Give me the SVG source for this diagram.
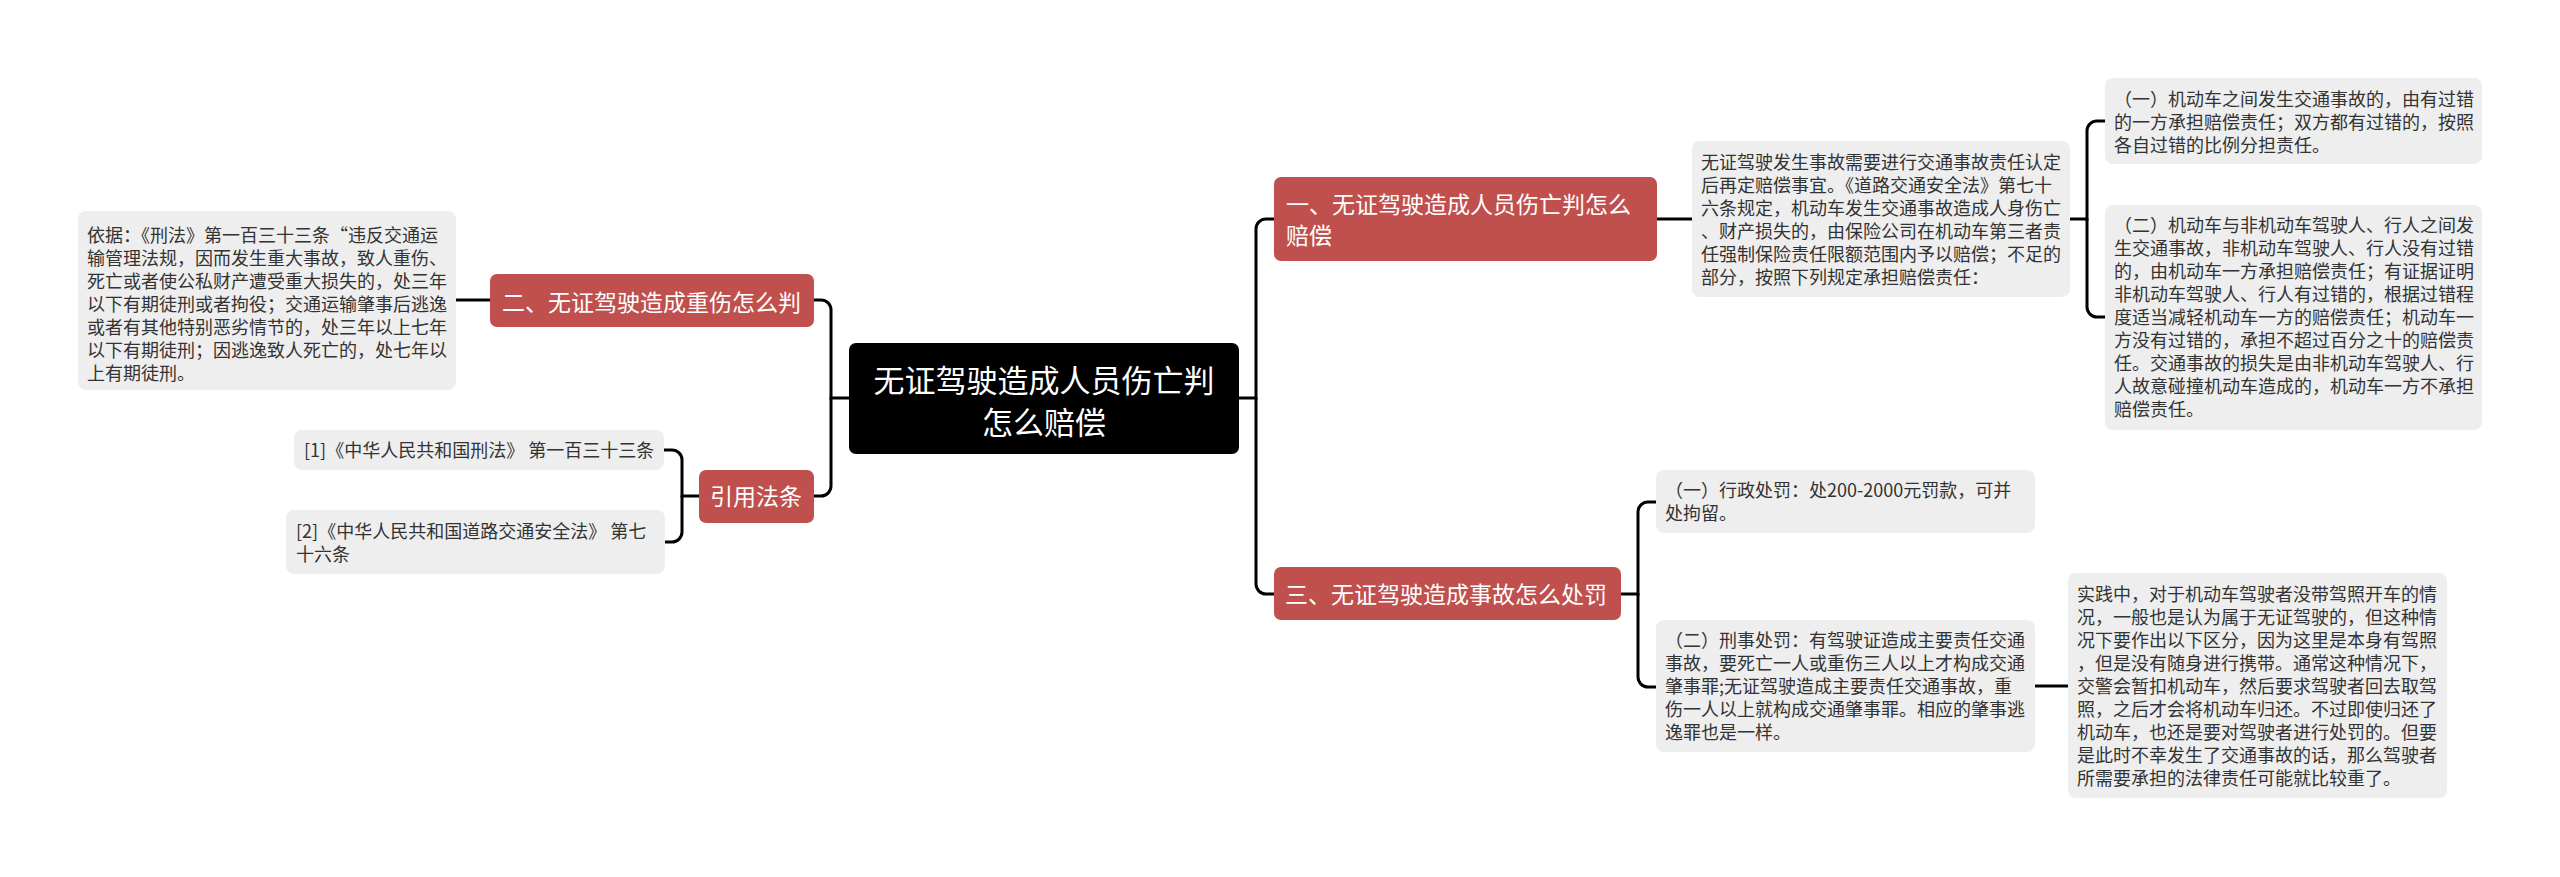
<svg xmlns="http://www.w3.org/2000/svg" width="2560" height="877" viewBox="0 0 2560 877">
<style>
.bg{fill:#ffffff}
.leaf{fill:#eeeeee}
.red{fill:#c0504d}
.root{fill:#000000}
.lt{font-family:"Noto Sans CJK SC","Noto Sans",sans-serif;font-size:18px;fill:#333333}
.nt{font-family:"Noto Sans CJK SC","Noto Sans",sans-serif;font-size:23px;fill:#ffffff}
.rt{font-family:"Noto Sans CJK SC","Noto Sans",sans-serif;font-size:31px;fill:#ffffff;text-anchor:middle}
.c{fill:none;stroke:#000000;stroke-width:3;stroke-linecap:round}
</style>
<rect class="bg" x="0" y="0" width="2560" height="877"/>
<g id="connectors">
<path class="c" d="M849 398 H831 V310 A10 10 0 0 0 821 300 H814"/>
<path class="c" d="M831 398 V486 A10 10 0 0 1 821 496 H814"/>
<path class="c" d="M456 300 H490"/>
<path class="c" d="M699 496 H682 V460 A10 10 0 0 0 672 450 H664"/>
<path class="c" d="M682 496 V532 A10 10 0 0 1 672 542 H665"/>
<path class="c" d="M1239 398 H1256 V229 A10 10 0 0 1 1266 219 H1274"/>
<path class="c" d="M1256 398 V584 A10 10 0 0 0 1266 594 H1274"/>
<path class="c" d="M1657 219 H1692"/>
<path class="c" d="M2070 219 H2087 V131 A10 10 0 0 1 2097 121 H2105"/>
<path class="c" d="M2087 219 V307 A10 10 0 0 0 2097 317 H2105"/>
<path class="c" d="M1621 594 H1638 V512 A10 10 0 0 1 1648 502 H1656"/>
<path class="c" d="M1638 594 V677 A10 10 0 0 0 1648 687 H1656"/>
<path class="c" d="M2035 686 H2068"/>
</g>
<g id="root">
<rect class="root" x="849" y="343" width="390" height="111" rx="7"/>
<text class="rt" x="1044" y="392">无证驾驶造成人员伤亡判</text>
<text class="rt" x="1044" y="434">怎么赔偿</text>
</g>
<g id="n2">
<rect class="red" x="490" y="274" width="324" height="53" rx="7"/>
<text class="nt" x="502" y="311">二、无证驾驶造成重伤怎么判</text>
</g>
<g id="n2-leaf">
<rect class="leaf" x="78" y="211" width="378" height="179" rx="8"/>
<text class="lt" x="87" y="242">依据：《刑法》第一百三十三条“违反交通运</text>
<text class="lt" x="87" y="265">输管理法规，因而发生重大事故，致人重伤、</text>
<text class="lt" x="87" y="288">死亡或者使公私财产遭受重大损失的，处三年</text>
<text class="lt" x="87" y="311">以下有期徒刑或者拘役；交通运输肇事后逃逸</text>
<text class="lt" x="87" y="334">或者有其他特别恶劣情节的，处三年以上七年</text>
<text class="lt" x="87" y="357">以下有期徒刑；因逃逸致人死亡的，处七年以</text>
<text class="lt" x="87" y="380">上有期徒刑。</text>
</g>
<g id="ref">
<rect class="red" x="699" y="470" width="115" height="53" rx="7"/>
<text class="nt" x="710" y="505">引用法条</text>
</g>
<g id="ref-1">
<rect class="leaf" x="294" y="430" width="370" height="40" rx="8"/>
<text class="lt" x="304" y="457">[1]《中华人民共和国刑法》 第一百三十三条</text>
</g>
<g id="ref-2">
<rect class="leaf" x="286" y="510" width="379" height="64" rx="8"/>
<text class="lt" x="296" y="538">[2]《中华人民共和国道路交通安全法》 第七</text>
<text class="lt" x="296" y="561">十六条</text>
</g>
<g id="n1">
<rect class="red" x="1274" y="177" width="383" height="84" rx="7"/>
<text class="nt" x="1286" y="213">一、无证驾驶造成人员伤亡判怎么</text>
<text class="nt" x="1286" y="244">赔偿</text>
</g>
<g id="n1-leaf">
<rect class="leaf" x="1692" y="141" width="378" height="156" rx="8"/>
<text class="lt" x="1701" y="169">无证驾驶发生事故需要进行交通事故责任认定</text>
<text class="lt" x="1701" y="192">后再定赔偿事宜。《道路交通安全法》第七十</text>
<text class="lt" x="1701" y="215">六条规定，机动车发生交通事故造成人身伤亡</text>
<text class="lt" x="1701" y="238">、财产损失的，由保险公司在机动车第三者责</text>
<text class="lt" x="1701" y="261">任强制保险责任限额范围内予以赔偿；不足的</text>
<text class="lt" x="1701" y="284">部分，按照下列规定承担赔偿责任：</text>
</g>
<g id="n1-a">
<rect class="leaf" x="2105" y="78" width="377" height="86" rx="8"/>
<text class="lt" x="2114" y="106">（一）机动车之间发生交通事故的，由有过错</text>
<text class="lt" x="2114" y="129">的一方承担赔偿责任；双方都有过错的，按照</text>
<text class="lt" x="2114" y="152">各自过错的比例分担责任。</text>
</g>
<g id="n1-b">
<rect class="leaf" x="2105" y="205" width="377" height="225" rx="8"/>
<text class="lt" x="2114" y="232">（二）机动车与非机动车驾驶人、行人之间发</text>
<text class="lt" x="2114" y="255">生交通事故，非机动车驾驶人、行人没有过错</text>
<text class="lt" x="2114" y="278">的，由机动车一方承担赔偿责任；有证据证明</text>
<text class="lt" x="2114" y="301">非机动车驾驶人、行人有过错的，根据过错程</text>
<text class="lt" x="2114" y="324">度适当减轻机动车一方的赔偿责任；机动车一</text>
<text class="lt" x="2114" y="347">方没有过错的，承担不超过百分之十的赔偿责</text>
<text class="lt" x="2114" y="370">任。交通事故的损失是由非机动车驾驶人、行</text>
<text class="lt" x="2114" y="393">人故意碰撞机动车造成的，机动车一方不承担</text>
<text class="lt" x="2114" y="416">赔偿责任。</text>
</g>
<g id="n3">
<rect class="red" x="1274" y="567" width="347" height="53" rx="7"/>
<text class="nt" x="1285" y="603">三、无证驾驶造成事故怎么处罚</text>
</g>
<g id="n3-a">
<rect class="leaf" x="1656" y="470" width="379" height="63" rx="8"/>
<text class="lt" x="1665" y="497">（一）行政处罚：处200-2000元罚款，可并</text>
<text class="lt" x="1665" y="520">处拘留。</text>
</g>
<g id="n3-b">
<rect class="leaf" x="1656" y="620" width="379" height="132" rx="8"/>
<text class="lt" x="1665" y="647">（二）刑事处罚：有驾驶证造成主要责任交通</text>
<text class="lt" x="1665" y="670">事故，要死亡一人或重伤三人以上才构成交通</text>
<text class="lt" x="1665" y="693">肇事罪;无证驾驶造成主要责任交通事故，重</text>
<text class="lt" x="1665" y="716">伤一人以上就构成交通肇事罪。相应的肇事逃</text>
<text class="lt" x="1665" y="739">逸罪也是一样。</text>
</g>
<g id="n3-b-leaf">
<rect class="leaf" x="2068" y="573" width="379" height="225" rx="8"/>
<text class="lt" x="2077" y="601">实践中，对于机动车驾驶者没带驾照开车的情</text>
<text class="lt" x="2077" y="624">况，一般也是认为属于无证驾驶的，但这种情</text>
<text class="lt" x="2077" y="647">况下要作出以下区分，因为这里是本身有驾照</text>
<text class="lt" x="2077" y="670">，但是没有随身进行携带。通常这种情况下，</text>
<text class="lt" x="2077" y="693">交警会暂扣机动车，然后要求驾驶者回去取驾</text>
<text class="lt" x="2077" y="716">照，之后才会将机动车归还。不过即使归还了</text>
<text class="lt" x="2077" y="739">机动车，也还是要对驾驶者进行处罚的。但要</text>
<text class="lt" x="2077" y="762">是此时不幸发生了交通事故的话，那么驾驶者</text>
<text class="lt" x="2077" y="785">所需要承担的法律责任可能就比较重了。</text>
</g>
</svg>
